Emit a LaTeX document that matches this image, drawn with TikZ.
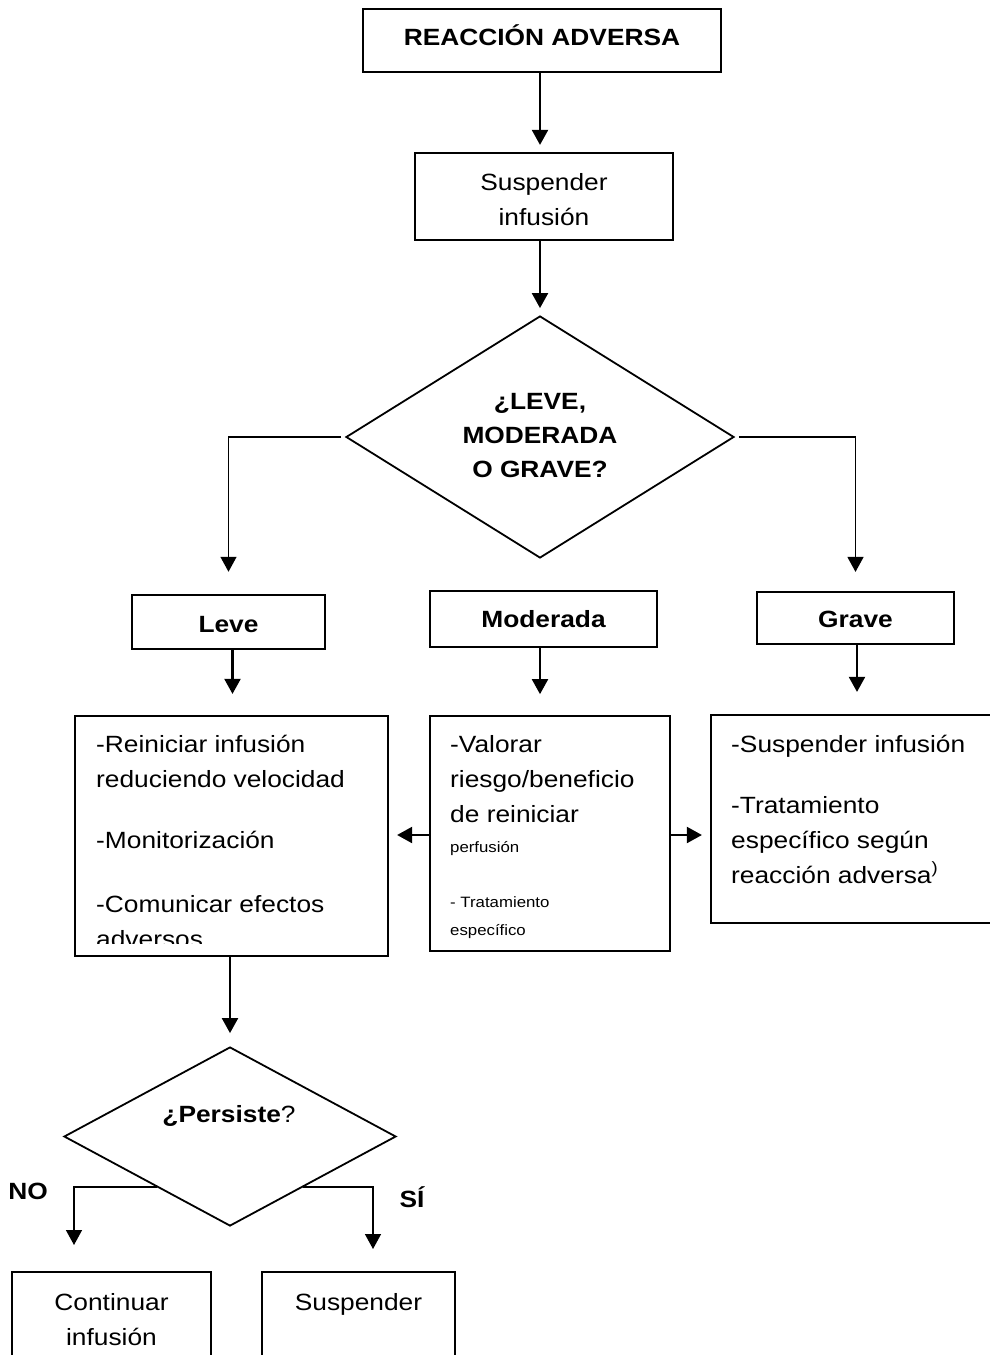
\documentclass[tikz,border=0pt]{standalone}
\usepackage{fontspec}
\setmainfont{Liberation Sans}[FakeStretch=1.12]
\usetikzlibrary{shapes.geometric,arrows.meta,calc}
\begin{document}
\begin{tikzpicture}[x=1pt,y=-1pt,
  box/.style={draw,line width=2.2pt,rectangle,inner sep=0pt},
  thinbox/.style={draw,line width=1.7pt,rectangle,inner sep=0pt},
  dia/.style={draw,line width=1.8pt,diamond,inner sep=0pt},
  arr/.style={line width=2.1pt,-{Triangle[width=16pt,length=15pt]}},
  sidearr/.style={line width=1.5pt,-{Triangle[width=16pt,length=15pt]}},
  tr/.style={inner sep=0pt,anchor=base,font=\fontsize{23.5}{35}\selectfont},
  tb/.style={inner sep=0pt,anchor=base,font=\fontsize{23.5}{35}\selectfont\bfseries},
  tl/.style={inner sep=0pt,anchor=base west,font=\fontsize{23.5}{35}\selectfont},
  ts/.style={inner sep=0pt,anchor=base west,font=\fontsize{15}{20}\selectfont}
]
\clip (0,0) rectangle (990,1355);
\useasboundingbox (0,0) rectangle (990,1355);

% boxes
\node[box,minimum width=358pt,minimum height=63pt] (b_top) at (542,40.5) {};
\node[box,minimum width=258pt,minimum height=87pt] (b_susp) at (544,196.5) {};
\node[dia,minimum width=388pt,minimum height=242pt,aspect=1.603] (d1) at (540,437) {};
\node[box,line width=2.5pt,minimum width=193pt,minimum height=54pt] (b_leve) at (228.5,622) {};
\node[thinbox,minimum width=227pt,minimum height=56pt] (b_mod) at (543.5,619) {};
\node[box,minimum width=197pt,minimum height=52pt] (b_grave) at (855.5,618) {};
\node[box,minimum width=313pt,minimum height=240pt] (c_leve) at (231.5,836) {};
\node[thinbox,minimum width=240pt,minimum height=235pt] (c_mod) at (550,833.5) {};
\node[box,minimum width=300pt,minimum height=208pt] (c_grave) at (861,819) {};
\node[dia,minimum width=332pt,minimum height=179pt,aspect=1.855] (d2) at (230,1136.5) {};
\node[box,minimum width=199pt,minimum height=120pt] (b_cont) at (111.5,1332) {};
\node[box,minimum width=193pt,minimum height=120pt] (b_susp2) at (358.5,1332) {};

% helper coordinates
\coordinate (hy) at (0,835);
\coordinate (nostart) at ($(d2.west)!0.56!(d2.south)$);
\coordinate (sistart) at ($(d2.east)!0.56!(d2.south)$);
\coordinate (noend) at (74,1272);
\coordinate (siend) at (373,1272);

% connectors
\draw[arr,shorten >=7pt] (b_top.south -| d1.north) -- (b_susp.north -| d1.north);
\draw[arr,shorten >=7pt] (b_susp.south -| d1.north) -- (d1.north);
\draw[sidearr,shorten <=4pt,shorten >=22pt] (d1.west) -| (b_leve.north);
\draw[sidearr,shorten <=4pt,shorten >=19pt] (d1.east) -| (b_grave.north);
\draw[arr,shorten >=21pt] ([xshift=4pt]b_leve.south) -- ([xshift=4pt]b_leve.south |- c_leve.north);
\draw[arr,shorten >=21pt] ([xshift=-3.5pt]b_mod.south) -- ([xshift=-3.5pt]b_mod.south |- c_mod.north);
\draw[arr,shorten >=22pt] ([xshift=1.5pt]b_grave.south) -- ([xshift=1.5pt]b_grave.south |- c_grave.north);
\draw[arr,shorten >=8pt] (c_mod.west |- hy) -- (c_leve.east |- hy);
\draw[arr,shorten >=8pt] (c_mod.east |- hy) -- (c_grave.west |- hy);
\draw[arr,shorten >=13pt] (c_leve.south -| d2.north) -- (d2.north);
\draw[sidearr,shorten >=27pt] (nostart) -| (noend);
\draw[sidearr,shorten >=23pt] (sistart) -| (siend);

% texts
\node[tb] (t_top) at (542,45) {REACCIÓN ADVERSA};
\node[tr] (t_s1) at (544,190) {Suspender};
\node[tr] (t_s2) at (544,225) {infusión};
\node[tb] (t_d1a) at (540,409) {¿LEVE,};
\node[tb] (t_d1b) at (540,443) {MODERADA};
\node[tb] (t_d1c) at (540,477) {O GRAVE?};
\node[tb] (t_leve) at (228.5,632) {Leve};
\node[tb] (t_mod) at (543.5,627) {Moderada};
\node[tb] (t_grave) at (855.5,627) {Grave};

\node[tl] (l1) at (96,752) {-Reiniciar infusión};
\node[tl] (l2) at (96,787) {reduciendo velocidad};
\node[tl] (l3) at (96,848) {-Monitorización};
\node[tl] (l4) at (96,912) {-Comunicar efectos};
\begin{scope}
\clip (76,900) rectangle (387,943);
\node[tl] (l5) at (96,947) {adversos};
\end{scope}

\node[tl] (m1) at (450,752) {-Valorar};
\node[tl] (m2) at (450,787) {riesgo/beneficio};
\node[tl] (m3) at (450,822) {de reiniciar};
\node[ts] (m4) at (450,852) {perfusión};
\node[ts] (m5) at (450,907) {- Tratamiento};
\node[ts] (m6) at (450,935) {específico};

\node[tl] (g1) at (731,752) {-Suspender infusión};
\node[tl] (g2) at (731,813) {-Tratamiento};
\node[tl] (g3) at (731,848) {específico según};
\node[tl] (g4) at (731,883) {reacción adversa\textsuperscript{)}};

\node[tr] (t_pers) at (229,1122) {\bfseries ¿Persiste\mdseries ?};
\node[tb] (t_no) at (28,1199) {NO};
\node[tb] (t_si) at (412,1207) {SÍ};
\node[tr] (t_c1) at (111.5,1310) {Continuar};
\node[tr] (t_c2) at (111.5,1345) {infusión};
\node[tr] (t_s3) at (358.5,1310) {Suspender};
\end{tikzpicture}
\end{document}
